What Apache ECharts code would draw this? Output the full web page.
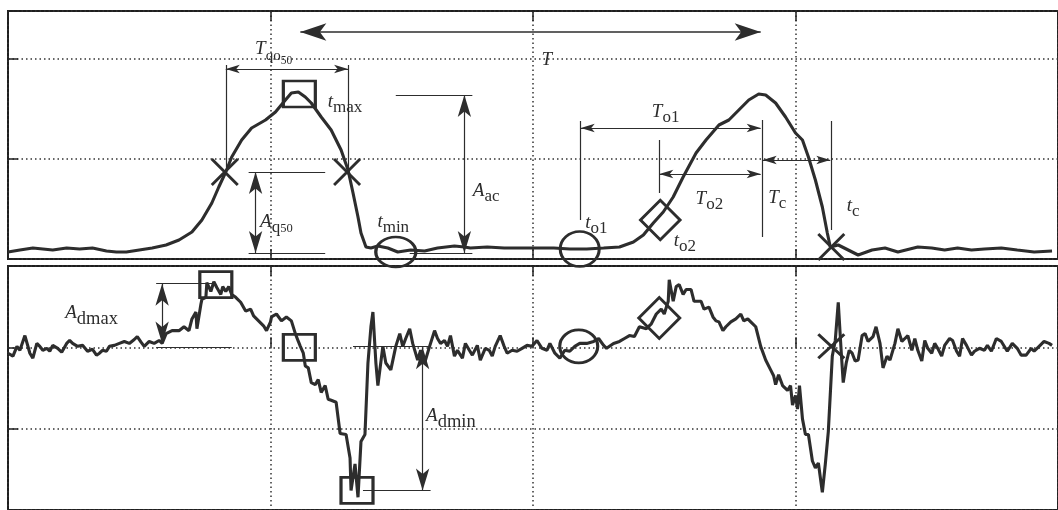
<!DOCTYPE html>
<html>
<head>
<meta charset="utf-8">
<script src="https://cdn.jsdelivr.net/npm/echarts@6/dist/echarts.min.js"></script>
<style>
  html, body { margin: 0; padding: 0; background: #fff; }
  #chart { width: 1058px; height: 510px; }
</style>
</head>
<body>
<div id="chart"></div>
<script>
// Upper trace: signal level over time, [t, level]
const levelTrace = [
  [0,7],[12,9],[25,11],[35,10],[45,9],[59,11],[72,10],[85,11],[99,8],[109,7],
  [119,7],[132,9],[145,11],[159,14],[172,19],[185,27],[195,39],[205,56],[212,72],[219,87],
  [225,102],[235,119],[245,131],[259,139],[269,147],[279,159],[285,166],[292,167],[299,162],[305,156],
  [315,142],[325,129],[335,109],[342,89],[347,66],[352,42],[355,26],[360,12],[365,11],[372,13],
  [382,11],[392,7],[405,9],[419,8],[432,11],[449,13],[459,12],[465,11],[482,12],[499,11],
  [515,11],[532,11],[549,11],[565,10],[582,10],[599,11],[615,12],[629,17],[639,24],[649,36],
  [659,47],[669,62],[679,82],[692,106],[702,119],[715,134],[725,139],[735,149],[745,159],[755,165],
  [762,164],[772,156],[782,142],[792,126],[799,119],[805,102],[812,79],[819,52],[824,26],[827,12],
  [835,14],[845,9],[855,4],[869,9],[882,11],[895,7],[915,12],[929,11],[942,9],[955,11],
  [969,9],[982,10],[999,11],[1015,9],[1032,7],[1050,8]
];

// Lower trace: rate of change over the same time base, [t, slope]
const slopeTrace = [
  [0,-6],[2,-4],[5,-9],[9,1],[12,-3],[17,12],[22,-6],[25,-11],[29,4],[32,1],[35,-3],[39,-1],
  [42,-4],[45,2],[50,-1],[54,-5],[59,4],[62,7],[65,4],[70,1],[75,2],[80,-4],[85,-2],[89,-8],
  [92,-6],[95,-3],[99,-4],[102,1],[107,2],[112,4],[117,6],[122,4],[127,8],[130,11],[134,5],
  [137,1],[142,6],[147,4],[152,7],[155,4],[159,14],[165,17],[172,17],[177,21],[182,17],[185,29],
  [189,36],[190,19],[194,44],[195,49],[199,51],[200,66],[204,57],[207,67],[210,61],[214,54],
  [216,62],[219,57],[222,62],[225,54],[229,51],[234,46],[239,37],[244,39],[247,32],[252,27],
  [257,22],[260,17],[264,26],[265,31],[270,34],[275,27],[280,31],[285,27],[289,14],[292,6],
  [294,1],[297,-6],[299,-19],[302,-21],[305,-36],[309,-38],[312,-33],[315,-46],[319,-39],[322,-53],
  [325,-54],[330,-56],[334,-88],[340,-89],[344,-113],[345,-146],[349,-119],[352,-153],[355,-96],[359,-89],
  [362,-16],[365,21],[367,36],[370,-16],[372,-39],[377,1],[380,-16],[385,-23],[390,1],[394,14],
  [397,1],[400,9],[404,19],[407,4],[412,-13],[415,-3],[419,-16],[424,1],[429,17],[432,9],
  [435,4],[439,7],[442,1],[445,12],[449,-9],[452,-3],[457,-11],[460,4],[464,-3],[467,-8],
  [472,2],[475,-13],[480,-1],[484,-3],[487,-9],[490,1],[495,12],[499,1],[502,-6],[507,-3],
  [512,-4],[517,-1],[522,2],[527,1],[532,7],[537,-1],[542,-3],[545,4],[550,-6],[555,-11],
  [560,-3],[565,-4],[570,1],[575,4],[582,4],[589,6],[594,9],[599,2],[602,-1],[609,4],
  [615,6],[620,9],[625,12],[630,11],[635,21],[642,19],[647,24],[652,34],[657,39],[660,34],
  [664,47],[665,69],[669,47],[672,62],[675,64],[679,54],[682,59],[687,59],[690,47],[697,47],
  [700,39],[705,41],[709,31],[712,27],[715,26],[719,17],[722,21],[727,26],[732,29],[737,34],
  [740,27],[744,29],[747,26],[752,21],[757,1],[762,-13],[767,-23],[770,-29],[772,-38],[775,-28],
  [779,-39],[784,-44],[787,-39],[789,-59],[792,-49],[794,-63],[796,-39],[799,-73],[802,-89],[805,-89],
  [809,-116],[812,-123],[815,-118],[819,-148],[822,-119],[825,-86],[829,-9],[832,7],[835,46],[838,-5],
  [840,-36],[843,-16],[846,-3],[849,-6],[852,-14],[855,-13],[859,12],[862,14],[865,6],[870,11],
  [873,21],[877,4],[880,-21],[884,-9],[887,-13],[892,4],[895,19],[899,6],[902,9],[905,12],
  [909,-3],[912,9],[915,-3],[919,-14],[922,7],[925,-1],[929,-6],[932,4],[935,-1],[939,-9],
  [942,2],[947,9],[950,7],[954,-4],[957,-9],[960,9],[964,2],[969,-8],[972,-4],[977,-1],
  [982,-3],[985,2],[989,-4],[994,9],[999,6],[1005,-4],[1010,4],[1015,-1],[1019,-8],[1024,-8],
  [1029,-1],[1032,-4],[1037,1],[1042,6],[1047,4],[1050,2]
];

const INK = '#2d2d2d';
const SERIF = '"Liberation Serif", "DejaVu Serif", serif';

// italic symbol + upright subscripts
const rich = {
  i: { fontFamily: SERIF, fontStyle: 'italic', fontSize: 19, color: INK, verticalAlign: 'top' },
  s: { fontFamily: SERIF, fontSize: 17, color: INK, verticalAlign: 'top', padding: [7, 0, 0, 0] },
  d: { fontFamily: SERIF, fontSize: 18.5, color: INK, verticalAlign: 'top', padding: [6, 0, 0, 0] },
  q: { fontFamily: SERIF, fontSize: 15, color: INK, verticalAlign: 'top', padding: [9, 0, 0, 0] },
  n: { fontFamily: SERIF, fontSize: 11.5, color: INK, verticalAlign: 'top', padding: [15, 0, 0, 0] },
  m: { fontFamily: SERIF, fontSize: 12.5, color: INK, verticalAlign: 'top', padding: [10, 0, 0, 0] }
};

const SMALL_HEAD = [6.5, 14];
const TALL_HEAD = [10, 22];
const BIG_HEAD = [13, 26];

// Dimension line between two ends, with optional arrowheads whose tips sit on the ends.
function dim(a, b, heads, size, width) {
  return [
    { coord: a, symbol: heads[0] ? 'arrow' : 'none', symbolSize: size || 1,
      lineStyle: { color: INK, width: width || 1.2, type: 'solid' } },
    { coord: b, symbol: heads[1] ? 'arrow' : 'none', symbolSize: size || 1 }
  ];
}
const rule = (a, b) => dim(a, b, [false, false]);
const both = (a, b, size, width) => dim(a, b, [true, true], size, width);

const outline = { color: 'transparent', borderColor: INK, borderWidth: 2.9 };
const box = (x, y) => ({ coord: [x, y], symbol: 'rect', symbolSize: [32, 26], itemStyle: outline });
const cross = (x, y, s) => ({ coord: [x, y], symbol: 'path://M0,0L10,10M10,0L0,10', symbolSize: s, itemStyle: outline });
const ring = (x, y, w, h) => ({ coord: [x, y], symbol: 'path://M0,10A10,10,0,1,0,20,10A10,10,0,1,0,0,10Z', symbolSize: [w, h], itemStyle: outline });
const tilted = (x, y, s) => ({ coord: [x, y], symbol: 'rect', symbolSize: s, symbolRotate: 45, itemStyle: outline });
const note = (x, y, text) => ({
  coord: [x, y], symbol: 'circle', symbolSize: 1, itemStyle: { color: 'transparent' },
  label: { show: true, position: 'right', distance: 0, formatter: text, rich: rich }
});

// annotations of the level trace
const levelLines = [
  both([294, 227], [757, 227], BIG_HEAD, 1.5),
  both([219, 190], [342, 190], SMALL_HEAD),
  rule([219, 194], [219, 92]),
  rule([342, 194], [342, 89]),
  rule([242, 87], [319, 87]),
  rule([242, 6], [319, 6]),
  both([249, 87], [249, 6], TALL_HEAD),
  rule([390, 164], [467, 164]),
  rule([404, 6], [467, 6]),
  both([459, 164], [459, 6], TALL_HEAD),
  rule([576, 138], [576, 39]),
  both([576, 131], [757, 131], SMALL_HEAD),
  rule([759, 139], [759, 22]),
  rule([655, 119], [655, 66]),
  both([655, 85], [757, 85], SMALL_HEAD),
  both([759, 99], [827, 99], SMALL_HEAD),
  rule([828, 138], [828, 29])
];
const levelPoints = [
  box(293, 165),
  cross(218, 87, 26),
  cross(341, 87, 26),
  ring(390, 7, 40, 30),
  ring(575, 10, 39, 35),
  tilted(656, 39, 28),
  cross(828, 12, 26),
  note(536, 199, '{i|T}'),
  note(248, 206, '{i|T}{q|qo}{n|50}'),
  note(321, 155, '{i|t}{s|max}'),
  note(253, 35, '{i|A}{s|q}{m|50}'),
  note(371, 35, '{i|t}{s|min}'),
  note(467, 66, '{i|A}{s|ac}'),
  note(580, 34, '{i|t}{s|o1}'),
  note(647, 145, '{i|T}{s|o1}'),
  note(691, 58, '{i|T}{s|o2}'),
  note(669, 16, '{i|t}{s|o2}'),
  note(764, 59, '{i|T}{s|c}'),
  note(843, 51, '{i|t}{s|c}')
];

// annotations of the slope trace
const slopeLines = [
  rule([149, 65], [207, 65]),
  rule([149, 0], [225, 0]),
  both([155, 65], [155, 4], TALL_HEAD),
  rule([347, 1], [425, 1]),
  rule([357, -146], [425, -146]),
  both([417, 0], [417, -146], TALL_HEAD)
];
const slopePoints = [
  box(209, 64),
  box(293, 0),
  box(351, -146),
  ring(574, 1, 38, 33),
  tilted(655, 30, 29),
  cross(828, 1, [26, 24]),
  note(57, 32, '{i|A}{d|dmax}'),
  note(420, -73, '{i|A}{d|dmin}')
];

const dotted = { show: true, lineStyle: { color: '#333', width: 1.5, type: [1.5, 3] } };
const ticks = { show: true, inside: true, length: 10, lineStyle: { color: '#222', width: 1.5 } };

function timeAxis(grid, pos, withGrid) {
  return {
    type: 'value', gridIndex: grid, position: pos, min: 0, max: 1056, interval: 264,
    axisLine: { show: false }, axisLabel: { show: false }, axisTick: ticks,
    splitLine: withGrid ? dotted : { show: false }
  };
}
function valueAxis(grid, min, max, step) {
  return {
    type: 'value', gridIndex: grid, min: min, max: max, interval: step,
    axisLine: { show: false }, axisLabel: { show: false }, axisTick: ticks, splitLine: dotted
  };
}

function trace(axisIdx, data, lines, points) {
  return {
    type: 'line', xAxisIndex: axisIdx, yAxisIndex: axisIdx, data: data,
    showSymbol: false, symbol: 'none', clip: false, silent: true,
    lineStyle: { color: INK, width: 3.1 }, z: 3,
    markLine: { silent: true, animation: false, label: { show: false }, data: lines, z: 4 },
    markPoint: { silent: true, animation: false, data: points, z: 5 }
  };
}

const chart = echarts.init(document.getElementById('chart'), null, { renderer: 'canvas' });
chart.setOption({
  animation: false,
  backgroundColor: '#fff',
  grid: [
    { left: 8, top: 11, width: 1056, height: 248, show: true, borderColor: '#1e1e1e', borderWidth: 2, backgroundColor: 'transparent' },
    { left: 8, top: 266, width: 1056, height: 249, show: true, borderColor: '#1e1e1e', borderWidth: 2, backgroundColor: 'transparent' }
  ],
  xAxis: [
    timeAxis(0, 'bottom', true),
    timeAxis(1, 'bottom', true),
    timeAxis(0, 'top', false),
    timeAxis(1, 'top', false)
  ],
  yAxis: [
    valueAxis(0, 0, 248, 100),
    valueAxis(1, -166, 83, 83)
  ],
  series: [
    trace(0, levelTrace, levelLines, levelPoints),
    trace(1, slopeTrace, slopeLines, slopePoints)
  ]
});
</script>
</body>
</html>
